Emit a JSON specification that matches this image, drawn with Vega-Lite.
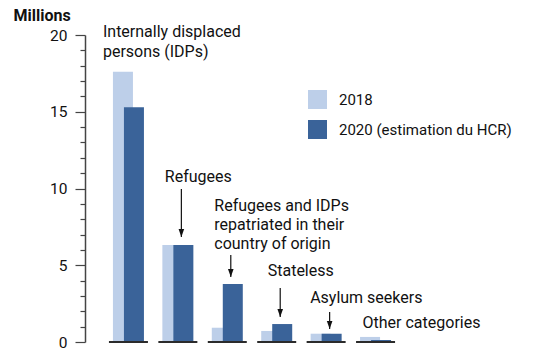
{
  "$schema": "https://vega.github.io/schema/vega-lite/v6.json",
  "width": 334,
  "height": 307,
  "autosize": {"type": "none"},
  "padding": {"left": 85, "top": 35, "right": 117, "bottom": 9},
  "config": {
    "font": "Roboto",
    "view": {"stroke": null},
    "legend": {
      "orient": "none",
      "legendX": 223,
      "legendY": 55,
      "title": null,
      "symbolType": "square",
      "symbolSize": 361,
      "symbolStrokeWidth": 0,
      "symbolOpacity": 1,
      "labelFont": "Roboto",
      "labelFontSize": 15,
      "labelColor": "#111111",
      "labelOffset": 12,
      "rowPadding": 11,
      "labelLimit": 300
    }
  },
  "datasets": {
    "bars": [
      {"cat": "IDPs", "year": "2018", "value": 17.6},
      {"cat": "IDPs", "year": "2020 (estimation du HCR)", "value": 15.3},
      {"cat": "Refugees", "year": "2018", "value": 6.32},
      {"cat": "Refugees", "year": "2020 (estimation du HCR)", "value": 6.32},
      {"cat": "Returned", "year": "2018", "value": 0.93},
      {"cat": "Returned", "year": "2020 (estimation du HCR)", "value": 3.78},
      {"cat": "Stateless", "year": "2018", "value": 0.72},
      {"cat": "Stateless", "year": "2020 (estimation du HCR)", "value": 1.17},
      {"cat": "Asylum", "year": "2018", "value": 0.54},
      {"cat": "Asylum", "year": "2020 (estimation du HCR)", "value": 0.54},
      {"cat": "Other", "year": "2018", "value": 0.33},
      {"cat": "Other", "year": "2020 (estimation du HCR)", "value": 0.13}
    ],
    "labels": [
      {"cat": "IDPs", "label": "Internally displaced\npersons (IDPs)", "value": 19.84},
      {"cat": "Refugees", "label": "Refugees", "value": 10.44},
      {"cat": "Returned", "label": "Refugees and IDPs\nrepatriated in their\ncountry of origin", "value": 8.53},
      {"cat": "Stateless", "label": "Stateless", "value": 4.32},
      {"cat": "Asylum", "label": "Asylum seekers", "value": 2.52},
      {"cat": "Other", "label": "Other categories", "value": 0.89}
    ],
    "arrows": [
      {"cat": "Refugees", "from": 9.97, "value": 6.84},
      {"cat": "Returned", "from": 5.67, "value": 4.23},
      {"cat": "Stateless", "from": 3.52, "value": 1.63},
      {"cat": "Asylum", "from": 1.95, "value": 0.85}
    ]
  },
  "encoding": {
    "x": {
      "field": "cat",
      "type": "nominal",
      "scale": {
        "type": "band",
        "domain": ["IDPs", "Refugees", "Returned", "Stateless", "Asylum", "Other"],
        "paddingInner": 0,
        "paddingOuter": 0.379
      },
      "axis": null
    },
    "y": {
      "field": "value",
      "type": "quantitative",
      "title": "Millions",
      "scale": {"domain": [0, 20], "nice": false},
      "axis": {
        "values": [0, 1, 2, 3, 4, 5, 6, 7, 8, 9, 10, 11, 12, 13, 14, 15, 16, 17, 18, 19, 20],
        "labelExpr": "datum.value % 5 === 0 ? datum.label : ''",
        "labelOverlap": false,
        "labelFlush": false,
        "labelBound": false,
        "grid": false,
        "domainColor": "#444444",
        "domainWidth": 1.5,
        "tickColor": "#444444",
        "tickWidth": 1.2,
        "tickSize": {"condition": {"test": "datum.value % 5 === 0", "value": 10}, "value": 5},
        "labelFont": "Roboto",
        "labelFontSize": 15.5,
        "labelColor": "#111111",
        "labelPadding": 8,
        "titleAngle": 0,
        "titleAlign": "left",
        "titleBaseline": "alphabetic",
        "titleX": -72,
        "titleY": -15,
        "titleFont": "Roboto",
        "titleFontSize": 16,
        "titleFontWeight": "bold",
        "titleColor": "#111111"
      }
    }
  },
  "layer": [
    {
      "data": {"name": "bars"},
      "transform": [{"filter": "datum.year === '2018'"}],
      "mark": {"type": "bar", "size": 20, "xOffset": -5.5},
      "encoding": {
        "color": {
          "field": "year",
          "type": "nominal",
          "scale": {"domain": ["2018", "2020 (estimation du HCR)"], "range": ["#bdcfe9", "#3a6399"]}
        }
      }
    },
    {
      "data": {"name": "bars"},
      "transform": [{"filter": "datum.year !== '2018'"}],
      "mark": {"type": "bar", "size": 20, "xOffset": 5.5},
      "encoding": {
        "color": {"field": "year", "type": "nominal"}
      }
    },
    {
      "data": {"name": "bars"},
      "transform": [{"filter": "datum.year === '2018'"}],
      "mark": {"type": "tick", "orient": "horizontal", "size": 39, "thickness": 2, "color": "#2b2b2b", "opacity": 1},
      "encoding": {
        "y": {"datum": 0, "type": "quantitative"}
      }
    },
    {
      "data": {"name": "arrows"},
      "mark": {"type": "rule", "xOffset": 3.5, "color": "#111111", "strokeWidth": 1.2},
      "encoding": {
        "y2": {"field": "from"}
      }
    },
    {
      "data": {"name": "arrows"},
      "mark": {"type": "point", "shape": "M-0.35,-1L0.35,-1L0,0Z", "size": 256, "filled": true, "color": "#111111", "opacity": 1, "xOffset": 3.5}
    },
    {
      "data": {"name": "labels"},
      "transform": [{"filter": "datum.cat === 'Refugees' || datum.cat === 'Returned' || datum.cat === 'Other'"}],
      "mark": {"type": "text", "align": "left", "baseline": "alphabetic", "dx": -13, "fontSize": 16, "lineHeight": 19, "lineBreak": "\n", "color": "#111111", "font": "Roboto"},
      "encoding": {
        "text": {"field": "label"}
      }
    },
    {
      "data": {"name": "labels"},
      "transform": [{"filter": "datum.cat === 'IDPs'"}],
      "mark": {"type": "text", "align": "left", "baseline": "alphabetic", "dx": -25.5, "fontSize": 16, "lineHeight": 20, "lineBreak": "\n", "color": "#111111", "font": "Roboto"},
      "encoding": {
        "text": {"field": "label"}
      }
    },
    {
      "data": {"name": "labels"},
      "transform": [{"filter": "datum.cat === 'Stateless'"}],
      "mark": {"type": "text", "align": "left", "baseline": "alphabetic", "dx": -9, "fontSize": 16, "color": "#111111", "font": "Roboto"},
      "encoding": {
        "text": {"field": "label"}
      }
    },
    {
      "data": {"name": "labels"},
      "transform": [{"filter": "datum.cat === 'Asylum'"}],
      "mark": {"type": "text", "align": "left", "baseline": "alphabetic", "dx": -16, "fontSize": 16, "color": "#111111", "font": "Roboto"},
      "encoding": {
        "text": {"field": "label"}
      }
    }
  ]
}
